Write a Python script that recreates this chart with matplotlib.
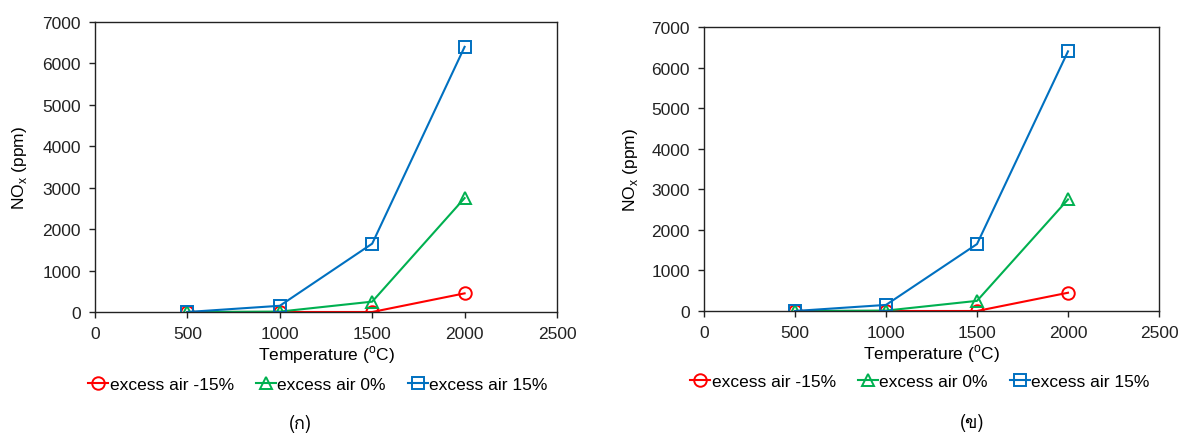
import matplotlib
matplotlib.use("Agg")
import matplotlib.pyplot as plt
from matplotlib import font_manager

plt.rcParams['font.family'] = ['Liberation Sans', 'DejaVu Sans']
plt.rcParams['mathtext.fontset'] = 'custom'
plt.rcParams['mathtext.rm'] = 'Liberation Sans'

temperature = [500, 1000, 1500, 2000]
nox_minus15 = [0, 0, 0, 450]
nox_zero = [0, 10, 250, 2750]
nox_plus15 = [0, 150, 1650, 6400]
series_labels = ['excess air -15%', 'excess air 0%', 'excess air 15%']
panel_captions = ['(ก)', '(ข)']
xticks = [0, 500, 1000, 1500, 2000, 2500]
yticks = [0, 1000, 2000, 3000, 4000, 5000, 6000, 7000]

colors = ['#FF0000', '#00B050', '#0070C0']
markers = ['o', '^', 's']

thai_candidates = [f.name for f in font_manager.fontManager.ttflist
                   if any(k in f.name for k in ('Thai', 'Loma', 'Garuda', 'Tlwg', 'Kinnari', 'Norasi', 'Sawasdee', 'Umpush', 'Waree', 'Purisa'))]
caption_family = thai_candidates[:1] + ['DejaVu Sans', 'Liberation Sans']

W, H = 1184, 435
fig = plt.figure(figsize=(W / 100, H / 100), dpi=100)
positions = [[95 / W, 1 - 313 / H, 462 / W, 290 / H], [704 / W, 1 - 312 / H, 455 / W, 284 / H]]
legend_centers = [(318 / W, 1 - 385 / H), (920 / W, 1 - 382 / H)]
caption_centers = [(300 / W, 1 - 424 / H), (972 / W, 1 - 423 / H)]
ylabel_pads = [9.5, 8]

for pos, cap, lc, cc, yp in zip(positions, panel_captions, legend_centers, caption_centers, ylabel_pads):
    ax = fig.add_axes(pos)
    for ys, lab, c, m in zip([nox_minus15, nox_zero, nox_plus15], series_labels, colors, markers):
        ax.plot(temperature, ys, color=c, marker=m, markersize=9, markerfacecolor='none',
                markeredgewidth=1.4, linewidth=1.5, label=lab)
    ax.set_xlim(0, 2500)
    ax.set_ylim(0, 7000)
    ax.set_xticks(xticks)
    ax.set_yticks(yticks)
    ax.tick_params(labelsize=12.5, length=4, width=1, colors='#222222', direction='out', pad=6)
    for s in ax.spines.values():
        s.set_linewidth(1)
        s.set_color('#222222')
    ax.set_xlabel('Temperature ($^\\mathregular{o}$C)', fontsize=12.5, labelpad=2)
    ax.set_ylabel('NO$_\\mathregular{x}$ (ppm)', fontsize=12.5, labelpad=yp)
    ax.legend(loc='center', bbox_to_anchor=lc, bbox_transform=fig.transFigure, ncol=3,
              frameon=False, fontsize=12.5, handlelength=1.15, handletextpad=0.1,
              columnspacing=1.25, borderaxespad=0, borderpad=0)
    fig.text(cc[0], cc[1], cap, ha='center', va='center', fontsize=13, family=caption_family)

fig.savefig('out.png', dpi=100)
